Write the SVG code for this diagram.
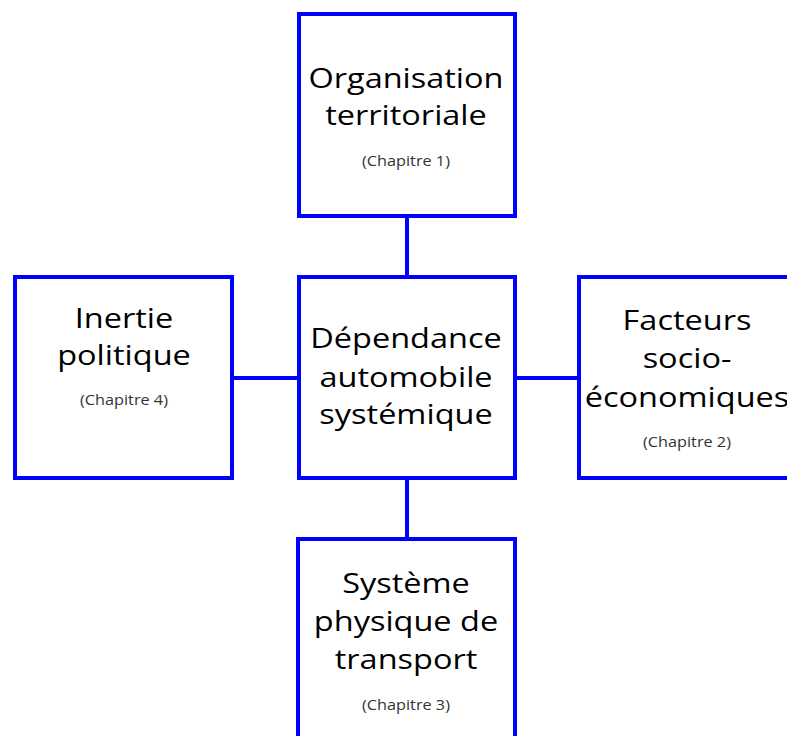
<svg xmlns="http://www.w3.org/2000/svg" width="787" height="736" viewBox="0 0 787 736">
<style>
.box{fill:#fff;stroke:#0000ff;stroke-width:4}
.ln{stroke:#0000ff;stroke-width:4;fill:none}
.t{font-family:"Open Sans","Noto Sans",sans-serif;font-size:28px;fill:#000;text-anchor:middle}
.c{font-family:"Open Sans","Noto Sans",sans-serif;font-size:14px;fill:#333;text-anchor:middle}
</style>
<rect width="787" height="736" fill="#fff"/>
<g id="connectors">
<line class="ln" x1="407" y1="216" x2="407" y2="277"/>
<line class="ln" x1="232" y1="378" x2="299" y2="378"/>
<line class="ln" x1="515" y1="378" x2="579" y2="378"/>
<line class="ln" x1="407" y1="478" x2="407" y2="539"/>
</g>
<g id="organisation">
<rect class="box" x="299" y="14" width="216" height="202"/>
<text class="t" transform="translate(406,88) scale(1.16,1)">Organisation</text>
<text class="t" transform="translate(406,125) scale(1.16,1)">territoriale</text>
<text class="c" transform="translate(406,166) scale(1.16,1)">(Chapitre 1)</text>
</g>
<g id="inertie">
<rect class="box" x="15" y="277" width="217" height="201"/>
<text class="t" transform="translate(124,328) scale(1.16,1)">Inertie</text>
<text class="t" transform="translate(124,365) scale(1.16,1)">politique</text>
<text class="c" transform="translate(124,405) scale(1.16,1)">(Chapitre 4)</text>
</g>
<g id="dependance">
<rect class="box" x="299" y="277" width="216" height="201"/>
<text class="t" transform="translate(406,348) scale(1.16,1)">Dépendance</text>
<text class="t" transform="translate(406,387) scale(1.16,1)">automobile</text>
<text class="t" transform="translate(406,424) scale(1.16,1)">systémique</text>
</g>
<g id="facteurs">
<rect class="box" x="579" y="277" width="216" height="201"/>
<text class="t" transform="translate(687,330) scale(1.16,1)">Facteurs</text>
<text class="t" transform="translate(687,368) scale(1.16,1)">socio-</text>
<text class="t" transform="translate(687,407) scale(1.16,1)">économiques</text>
<text class="c" transform="translate(687,447) scale(1.16,1)">(Chapitre 2)</text>
</g>
<g id="systeme">
<rect class="box" x="298" y="539" width="217" height="202"/>
<text class="t" transform="translate(406,593) scale(1.16,1)">Système</text>
<text class="t" transform="translate(406,631) scale(1.16,1)">physique de</text>
<text class="t" transform="translate(406,669) scale(1.16,1)">transport</text>
<text class="c" transform="translate(406,710) scale(1.16,1)">(Chapitre 3)</text>
</g>
</svg>
